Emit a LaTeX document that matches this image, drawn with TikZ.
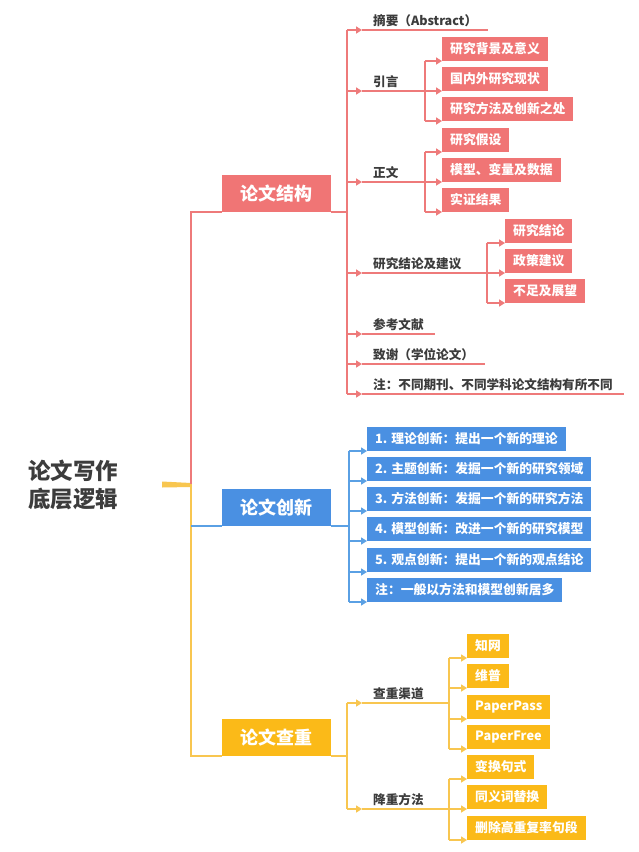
\documentclass[tikz,border=0pt]{standalone}
\usepackage{fontspec}
\setmainfont{Noto Sans CJK SC}
\usetikzlibrary{arrows.meta}
\definecolor{rbox}{HTML}{F07575}
\definecolor{rline}{HTML}{EE7A7A}
\definecolor{bbox}{HTML}{4A90E2}
\definecolor{bline}{HTML}{5AA0E4}
\definecolor{ybox}{HTML}{FBBA18}
\definecolor{yline}{HTML}{F8C650}
\definecolor{txt}{HTML}{3C3C3C}
\begin{document}
\begin{tikzpicture}[x=1pt,y=-1pt,
 mainbox/.style={fill=#1, text=white, font=\fontsize{18}{20}\selectfont\bfseries, minimum width=109pt, minimum height=37pt, inner sep=0pt, anchor=south west},
 subbox/.style={fill=#1, text=white, font=\fontsize{12.8}{14}\selectfont\bfseries, minimum height=24pt, inner xsep=8pt, inner ysep=0pt, anchor=south west},
 lbl/.style={text=txt, font=\fontsize{12.6}{14}\selectfont\bfseries, inner xsep=11pt, inner ysep=3pt, anchor=south west},
 ln/.style={draw=#1, line width=1.8pt},
 arr/.style={draw=#1, line width=1.8pt, -{Triangle[length=6pt,width=7pt]}},
]
\useasboundingbox (0,0) rectangle (639,852);
\fill[white] (0,0) rectangle (639,852);

% root
\node[font=\fontsize{22.5}{28}\selectfont\bfseries, text=txt, align=left] (root) at (73,485) {论文写作\\底层逻辑};
\coordinate (tm) at (191,484);
\fill[yline] (162,481.5) -- (191,483) -- (191,487) -- (162,487.5) -- cycle;

% ===== red branch =====
\node[mainbox=rbox] (jg) at (222,212) {论文结构};
\coordinate (rv) at (347,212);
\draw[ln=rline] (tm) |- (jg.south west);
\draw[ln=rline] (jg.south east) -- (rv);

\node[lbl] (abs) at (362,30) {摘要（Abstract）};
\node[lbl] (yy) at (362,91) {引言};
\node[lbl] (zw) at (362,182) {正文};
\node[lbl] (jl) at (362,273) {研究结论及建议};
\node[lbl] (ck) at (362,334) {参考文献};
\node[lbl] (zx) at (362,364) {致谢（学位论文）};
\node[lbl] (zhu) at (362,394) {注：不同期刊、不同学科论文结构有所不同};

\draw[ln=rline] (rv |- abs.south west) -- (rv |- zhu.south west);
\foreach \n in {abs,yy,zw,jl,ck,zx,zhu}{
  \draw[arr=rline] (rv |- \n.south west) -- (\n.south west);
}
\foreach \n in {abs,ck,zx,zhu}{
  \draw[ln=rline] (\n.south west) -- (\n.south east);
}

% 引言 children
\node[subbox=rbox] (y1) at (442,61) {研究背景及意义};
\node[subbox=rbox] (y2) at (442,91) {国内外研究现状};
\node[subbox=rbox] (y3) at (442,121) {研究方法及创新之处};
\coordinate (sv1) at (425,91);
\draw[ln=rline] (sv1 |- y1.south west) -- (sv1 |- y3.south west);
\draw[ln=rline] (yy.south west) -- (sv1);
\foreach \n in {y1,y2,y3}{\draw[arr=rline] (sv1 |- \n.south west) -- (\n.south west);}

% 正文 children
\node[subbox=rbox] (z1) at (442,152) {研究假设};
\node[subbox=rbox] (z2) at (442,182) {模型、变量及数据};
\node[subbox=rbox] (z3) at (442,212) {实证结果};
\coordinate (sv2) at (425,182);
\draw[ln=rline] (sv2 |- z1.south west) -- (sv2 |- z3.south west);
\draw[ln=rline] (zw.south west) -- (sv2);
\foreach \n in {z1,z2,z3}{\draw[arr=rline] (sv2 |- \n.south west) -- (\n.south west);}

% 研究结论及建议 children
\node[subbox=rbox] (j1) at (505,243) {研究结论};
\node[subbox=rbox] (j2) at (505,273) {政策建议};
\node[subbox=rbox] (j3) at (505,303) {不足及展望};
\coordinate (sv3) at (487,273);
\draw[ln=rline] (sv3 |- j1.south west) -- (sv3 |- j3.south west);
\draw[ln=rline] (jl.south west) -- (sv3);
\foreach \n in {j1,j2,j3}{\draw[arr=rline] (sv3 |- \n.south west) -- (\n.south west);}

% ===== blue branch =====
\node[mainbox=bbox] (cx) at (222,526) {论文创新};
\coordinate (bv) at (349,526);
\node[subbox=bbox] (c1) at (367,451) {1. 理论创新：提出一个新的理论};
\node[subbox=bbox] (c2) at (367,481) {2. 主题创新：发掘一个新的研究领域};
\node[subbox=bbox] (c3) at (367,511) {3. 方法创新：发掘一个新的研究方法};
\node[subbox=bbox] (c4) at (367,541) {4. 模型创新：改进一个新的研究模型};
\node[subbox=bbox] (c5) at (367,572) {5. 观点创新：提出一个新的观点结论};
\node[subbox=bbox] (c6) at (367,602) {注：一般以方法和模型创新居多};

% ===== yellow branch =====
\node[mainbox=ybox] (cc) at (222,756) {论文查重};
\coordinate (yv) at (347,756);
\draw[ln=yline] (tm) |- (cc.south west);
\draw[ln=yline] (cc.south east) -- (yv);

% blue connectors (drawn after yellow trunk)
\draw[ln=bline] (tm |- cx.south west) -- (cx.south west);
\draw[ln=bline] (cx.south east) -- (bv);
\draw[ln=bline] (bv |- c1.south west) -- (bv |- c6.south west);
\foreach \n in {c1,c2,c3,c4,c5,c6}{\draw[arr=bline] (bv |- \n.south west) -- (\n.south west);}

\node[lbl] (qd) at (362,703) {查重渠道};
\node[lbl] (jc) at (362,809) {降重方法};
\draw[ln=yline] (yv |- qd.south west) -- (yv |- jc.south west);
\foreach \n in {qd,jc}{\draw[arr=yline] (yv |- \n.south west) -- (\n.south west);}

\node[subbox=ybox] (q1) at (467,658) {知网};
\node[subbox=ybox] (q2) at (467,688) {维普};
\node[subbox=ybox] (q3) at (467,719) {PaperPass};
\node[subbox=ybox] (q4) at (467,749) {PaperFree};
\coordinate (sv4) at (449,703);
\draw[ln=yline] (sv4 |- q1.south west) -- (sv4 |- q4.south west);
\draw[ln=yline] (qd.south west) -- (sv4);
\foreach \n in {q1,q2,q3,q4}{\draw[arr=yline] (sv4 |- \n.south west) -- (\n.south west);}

\node[subbox=ybox] (d1) at (467,779) {变换句式};
\node[subbox=ybox] (d2) at (467,809) {同义词替换};
\node[subbox=ybox] (d3) at (467,840) {删除高重复率句段};
\coordinate (sv5) at (449,809);
\draw[ln=yline] (sv5 |- d1.south west) -- (sv5 |- d3.south west);
\draw[ln=yline] (jc.south west) -- (sv5);
\foreach \n in {d1,d2,d3}{\draw[arr=yline] (sv5 |- \n.south west) -- (\n.south west);}
\end{tikzpicture}
\end{document}
